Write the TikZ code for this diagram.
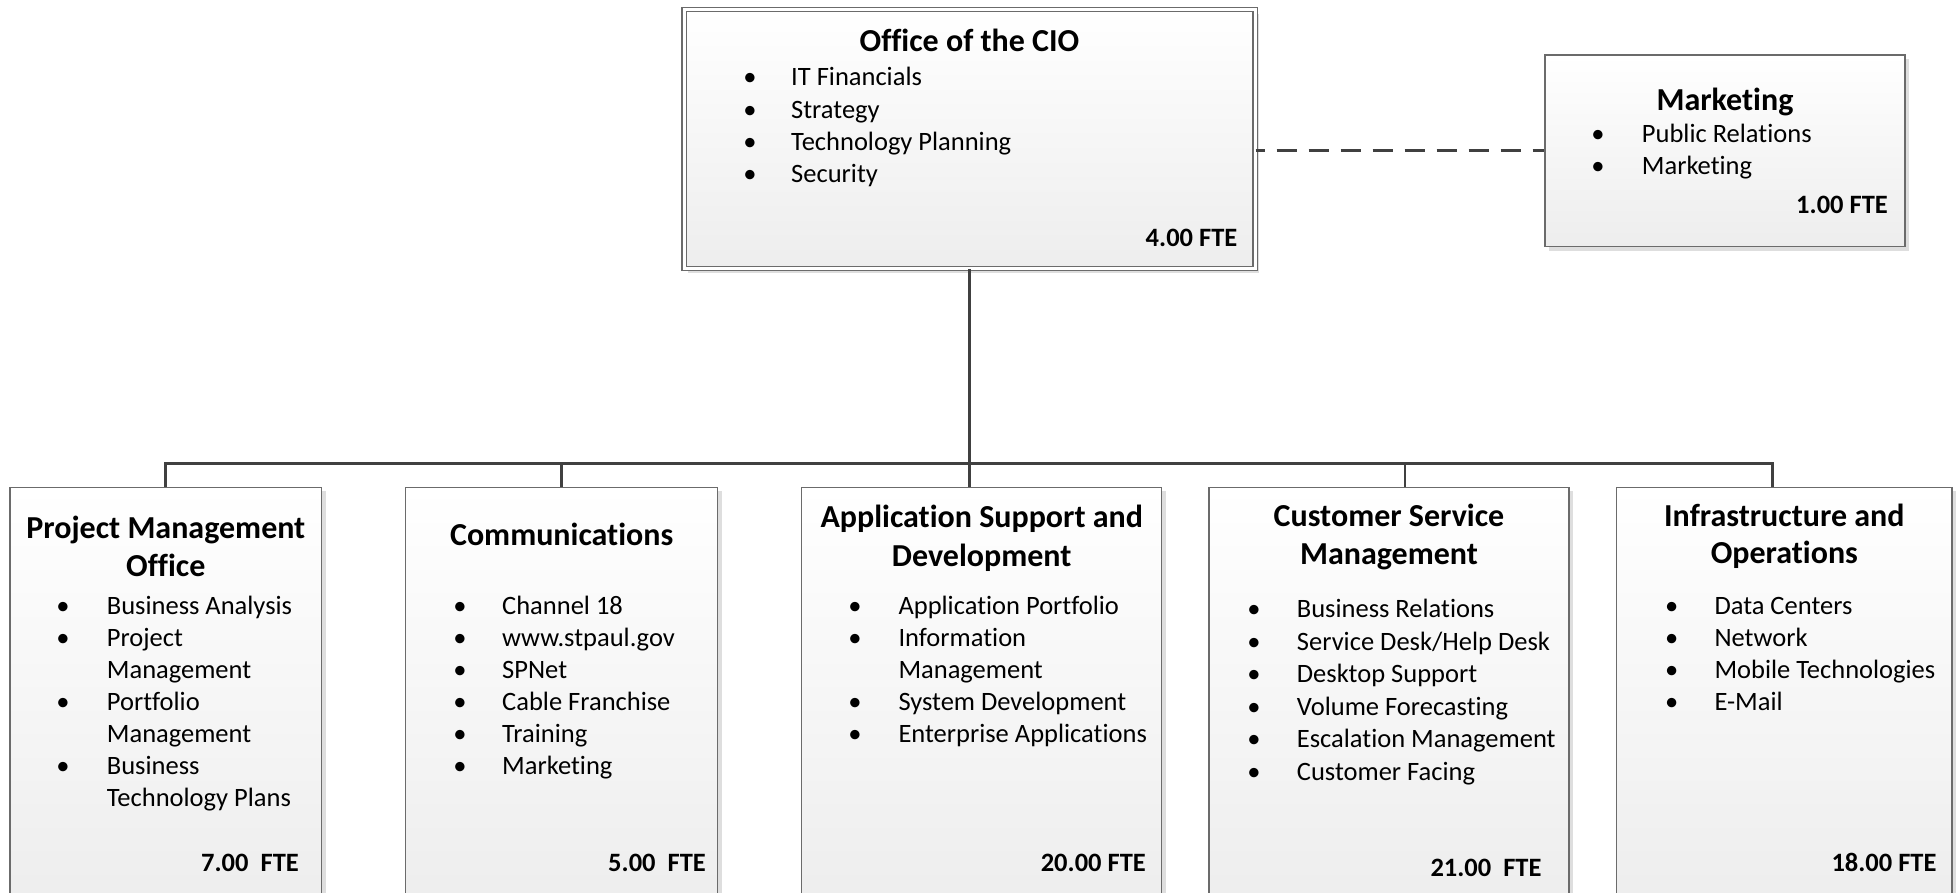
\documentclass[tikz,border=0pt]{standalone}
\usepackage{fontspec}
\setmainfont{Carlito}[RawFeature={-liga}]
\usetikzlibrary{shadows}
\newcommand\orglist[6]{%
  \foreach \mybul/\mytxt [count=\i] in {#6} {%
    \node[itm] (#1-t\i) at (#3,{#4+(\i-1)*#5}) {\mytxt};
    \ifnum\mybul=1 \node[bul] (#1-b\i) at (#2,{#4+(\i-1)*#5}) {•};\fi
  }}
\begin{document}
\begin{tikzpicture}[x=1pt,y=-1pt,
  box/.style={draw=black!58, line width=1.3pt, top color=white, bottom color=black!7,
    inner sep=0pt, drop shadow={shadow xshift=4pt, shadow yshift=-4pt, fill=black!13, opacity=1}},
  conn/.style={draw=black!75, line width=2.8pt},
  dashconn/.style={draw=black!75, line width=2.8pt, dash pattern=on 20.7pt off 11.3pt, dash phase=11pt},
  ttl/.style={font=\fontsize{32}{38}\selectfont\bfseries, anchor=base, inner sep=0pt},
  itm/.style={font=\fontsize{26.5}{32}\selectfont, anchor=base west, inner sep=0pt},
  bul/.style={font=\fontsize{26.5}{32}\selectfont, anchor=base, inner sep=0pt},
  fte/.style={font=\fontsize{26.5}{32}\selectfont\bfseries, anchor=base east, inner sep=0pt}]
\useasboundingbox (0,0) rectangle (1960,893);
\clip (0,0) rectangle (1960,893);
\fill[white] (0,0) rectangle (1960,893);

% boxes
\node[box, double, double distance=3pt, minimum width=571pt, minimum height=259pt] (cio) at (969.5,139.2) {};
\node[box, minimum width=360pt, minimum height=191.7pt] (mkt) at (1725,150.8) {};
\node[box, minimum width=311.7pt, minimum height=418.7pt] (pmo) at (165.85,696.65) {};
\node[box, minimum width=312pt, minimum height=418.7pt] (com) at (561.7,696.65) {};
\node[box, minimum width=360pt, minimum height=418.7pt] (asd) at (981.7,696.65) {};
\node[box, minimum width=360pt, minimum height=418.7pt] (csm) at (1389,696.65) {};
\node[box, minimum width=335.3pt, minimum height=418.7pt] (io) at (1784.35,696.65) {};

% connectors
\coordinate (bus) at (0,463.3);
\coordinate (d4) at ([xshift=16pt]csm.north);
\coordinate (d5) at ([xshift=-11.85pt]io.north);
\draw[conn] (cio.south) -- (cio.south |- asd.north);
\draw[conn] (pmo.north) -- (pmo.north |- bus) -- (d5 |- bus) -- (d5);
\draw[conn] (com.north |- bus) -- (com.north);
\draw[conn] (d4 |- bus) -- (d4);
\draw[dashconn] (cio.east |- mkt.west) -- (mkt.west);

% Office of the CIO
\node[ttl] (cio-title) at (969.5,51.7) {Office of the CIO};
\orglist{cio}{750}{791}{86}{32.2}{1/IT Financials,1/Strategy,1/Technology Planning,1/Security}
\node[fte] (cio-fte) at (1237.5,246.7) {4.00 FTE};

% Marketing
\node[ttl] (mkt-title) at (1725,110.7) {Marketing};
\orglist{mkt}{1598}{1641.7}{142.7}{31.7}{1/Public Relations,1/Marketing}
\node[fte] (mkt-fte) at (1888,213.3) {1.00 FTE};

% Project Management Office
\node[ttl] (pmo-title1) at (165.85,538.3) {Project Management};
\node[ttl] (pmo-title2) at (165.85,576.5) {Office};
\orglist{pmo}{63}{106.7}{614.3}{32}{1/Business Analysis,1/Project,0/Management,1/Portfolio,0/Management,1/Business,0/Technology Plans}
\node[fte] (pmo-fte) at (299,871) {7.00\ \ FTE};

% Communications
\node[ttl] (com-title) at (561.7,545) {Communications};
\orglist{com}{460}{502}{614}{32.1}{1/Channel 18,1/www.stpaul.gov,1/SPNet,1/Cable Franchise,1/Training,1/Marketing}
\node[fte] (com-fte) at (706,871.7) {5.00\ \ FTE};

% Application Support and Development
\node[ttl] (asd-title1) at (981.7,527.3) {Application Support and};
\node[ttl] (asd-title2) at (981.7,566) {Development};
\orglist{asd}{855}{898.3}{614.3}{32}{1/Application Portfolio,1/Information,0/Management,1/System Development,1/Enterprise Applications}
\node[fte] (asd-fte) at (1146,871.7) {20.00 FTE};

% Customer Service Management
\node[ttl] (csm-title1) at (1389,526) {Customer Service};
\node[ttl] (csm-title2) at (1389,564) {Management};
\orglist{csm}{1254}{1296.7}{617.7}{32.5}{1/Business Relations,1/{Service Desk/Help Desk},1/Desktop Support,1/Volume Forecasting,1/Escalation Management,1/Customer Facing}
\node[fte] (csm-fte) at (1541.7,876) {21.00\ \ FTE};

% Infrastructure and Operations
\node[ttl] (io-title1) at (1784.35,526) {Infrastructure and};
\node[ttl] (io-title2) at (1784.35,563.3) {Operations};
\orglist{io}{1671.7}{1714.3}{614.3}{32.2}{1/Data Centers,1/Network,1/Mobile Technologies,1/E-Mail}
\node[fte] (io-fte) at (1936.7,871.7) {18.00 FTE};
\end{tikzpicture}
\end{document}
